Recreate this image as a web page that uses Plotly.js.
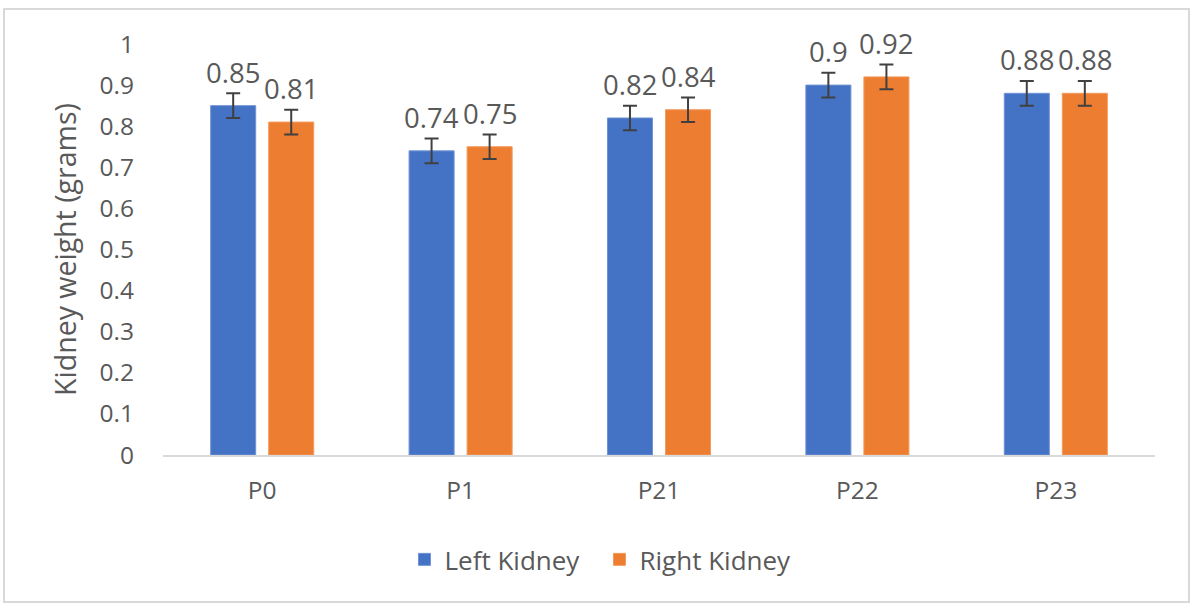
<!DOCTYPE html>
<html>
<head>
<meta charset="utf-8">
<script src="https://cdn.plot.ly/plotly-3.0.1.min.js"></script>
<style>
  html, body { margin: 0; padding: 0; background: #fff; }
  #wrap { position: relative; width: 1195px; height: 610px; }
  #chart { width: 1195px; height: 610px; }
  #frame { position: absolute; left: 3px; top: 8px; width: 1187px; height: 595px;
           border: 2px solid #d9d9d9; pointer-events: none; box-sizing: border-box; }
</style>
</head>
<body>
<div id="wrap">
  <div id="chart"></div>
  <div id="frame"></div>
</div>
<script>
const categories = ["P0", "P1", "P21", "P22", "P23"];
const leftKidney = [0.85, 0.74, 0.82, 0.90, 0.88];
const rightKidney = [0.81, 0.75, 0.84, 0.92, 0.88];
const leftErr = [0.03, 0.03, 0.03, 0.03, 0.03];
const rightErr = [0.03, 0.03, 0.03, 0.03, 0.03];
const yTicks = [0, 0.1, 0.2, 0.3, 0.4, 0.5, 0.6, 0.7, 0.8, 0.9, 1];
const yTickLabels = ["0", "0.1", "0.2", "0.3", "0.4", "0.5", "0.6", "0.7", "0.8", "0.9", "1"];

const fontFam = "Open Sans, Noto Sans, DejaVu Sans, sans-serif";
const grey = "#595959";

function fmt(v) { return String(+v.toFixed(2)); }

const errStyle = { type: "data", visible: true, color: "#404040", thickness: 2, width: 7 };

const traces = [
  {
    type: "bar", name: "Left Kidney", x: categories, y: leftKidney,
    marker: { color: "#4472C4", line: { color: "#6f93d6", width: 1 } },
    error_y: Object.assign({ array: leftErr }, errStyle)
  },
  {
    type: "bar", name: "Right Kidney", x: categories, y: rightKidney,
    marker: { color: "#ED7D31", line: { color: "#f39a5c", width: 1 } },
    error_y: Object.assign({ array: rightErr }, errStyle)
  }
];

function labels(vals, shift) {
  return vals.map((v, i) => ({
    x: categories[i], y: v, xref: "x", yref: "y", text: fmt(v), showarrow: false,
    xanchor: "center", yanchor: "bottom", xshift: shift, yshift: 13,
    font: { family: fontFam, size: 27.5, color: grey }
  }));
}

const layout = {
  width: 1195, height: 610,
  margin: { l: 163, r: 40, t: 44, b: 155 },
  paper_bgcolor: "#fff", plot_bgcolor: "#fff",
  font: { family: fontFam, color: grey, size: 25 },
  barmode: "group", bargap: 0.415, bargroupgap: 0.224,
  xaxis: {
    type: "category", showgrid: false, showline: true, linecolor: "#d9d9d9", linewidth: 2,
    ticks: "", tickfont: { size: 24.5, color: grey }, ticklabelstandoff: 13, automargin: false
  },
  yaxis: {
    range: [0, 1], tickvals: yTicks, ticktext: yTickLabels, showgrid: false,
    zeroline: false, showline: false, ticks: "", ticklabelstandoff: 28,
    tickfont: { size: 24.5, color: grey },
    title: { text: "Kidney weight (grams)", font: { size: 28.5, color: grey }, standoff: 14 },
    automargin: false
  },
  annotations: labels(leftKidney, -29).concat(labels(rightKidney, 29)),
  showlegend: true,
  legend: {
    orientation: "h", x: 0.44, xanchor: "center", y: -0.197, yanchor: "top",
    font: { size: 26, color: grey }, itemwidth: 30, tracegroupgap: 0,
    entrywidth: 150, entrywidthmode: "pixels"
  }
};

Plotly.newPlot("chart", traces, layout, { displayModeBar: false, staticPlot: true });
</script>
</body>
</html>
